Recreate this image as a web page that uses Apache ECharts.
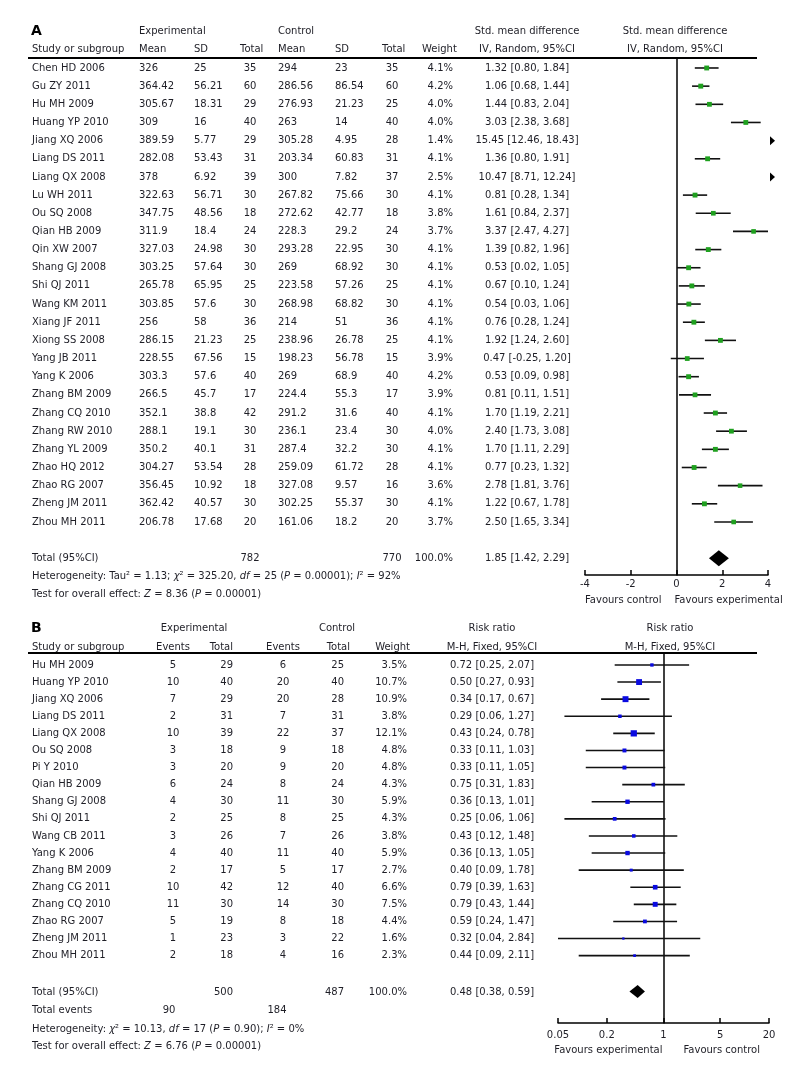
<!DOCTYPE html>
<html><head><meta charset="utf-8">
<script src="https://cdn.jsdelivr.net/npm/echarts@6/dist/echarts.min.js"></script>
<style>html,body{margin:0;padding:0;background:#fff}#c{width:800px;height:1069px}</style>
</head><body><div id="c"></div>
<script>
// ---------- Panel A data ----------
const studiesA = ['Chen HD 2006','Gu ZY 2011','Hu MH 2009','Huang YP 2010','Jiang XQ 2006','Liang DS 2011','Liang QX 2008','Lu WH 2011','Ou SQ 2008','Qian HB 2009','Qin XW 2007','Shang GJ 2008','Shi QJ 2011','Wang KM 2011','Xiang JF 2011','Xiong SS 2008','Yang JB 2011','Yang K 2006','Zhang BM 2009','Zhang CQ 2010','Zhang RW 2010','Zhang YL 2009','Zhao HQ 2012','Zhao RG 2007','Zheng JM 2011','Zhou MH 2011'];
const expMeanA = ['326','364.42','305.67','309','389.59','282.08','378','322.63','347.75','311.9','327.03','303.25','265.78','303.85','256','286.15','228.55','303.3','266.5','352.1','288.1','350.2','304.27','356.45','362.42','206.78'];
const expSdA = ['25','56.21','18.31','16','5.77','53.43','6.92','56.71','48.56','18.4','24.98','57.64','65.95','57.6','58','21.23','67.56','57.6','45.7','38.8','19.1','40.1','53.54','10.92','40.57','17.68'];
const expNA = [35,60,29,40,29,31,39,30,18,24,30,30,25,30,36,25,15,40,17,42,30,31,28,18,30,20];
const ctlMeanA = ['294','286.56','276.93','263','305.28','203.34','300','267.82','272.62','228.3','293.28','269','223.58','268.98','214','238.96','198.23','269','224.4','291.2','236.1','287.4','259.09','327.08','302.25','161.06'];
const ctlSdA = ['23','86.54','21.23','14','4.95','60.83','7.82','75.66','42.77','29.2','22.95','68.92','57.26','68.82','51','26.78','56.78','68.9','55.3','31.6','23.4','32.2','61.72','9.57','55.37','18.2'];
const ctlNA = [35,60,25,40,28,31,37,30,18,24,30,30,25,30,36,25,15,40,17,40,30,30,28,16,30,20];
const weightA = ['4.1%','4.2%','4.0%','4.0%','1.4%','4.1%','2.5%','4.1%','3.8%','3.7%','4.1%','4.1%','4.1%','4.1%','4.1%','4.1%','3.9%','4.2%','3.9%','4.1%','4.0%','4.1%','4.1%','3.6%','4.1%','3.7%'];
const smdA = [1.32,1.06,1.44,3.03,15.45,1.36,10.47,0.81,1.61,3.37,1.39,0.53,0.67,0.54,0.76,1.92,0.47,0.53,0.81,1.70,2.40,1.70,0.77,2.78,1.22,2.50];
const loA  = [0.80,0.68,0.83,2.38,12.46,0.80,8.71,0.28,0.84,2.47,0.82,0.02,0.10,0.03,0.28,1.24,-0.25,0.09,0.11,1.19,1.73,1.11,0.23,1.81,0.67,1.65];
const hiA  = [1.84,1.44,2.04,3.68,18.43,1.91,12.24,1.34,2.37,4.27,1.96,1.05,1.24,1.06,1.24,2.60,1.20,0.98,1.51,2.21,3.08,2.29,1.32,3.76,1.78,3.34];
const totalA = {expN: 782, ctlN: 770, weight: '100.0%', est: 1.85, lo: 1.42, hi: 2.29};
const ticksA = [-4, -2, 0, 2, 4];
const tickLabelsA = ['-4', '-2', '0', '2', '4'];

// ---------- Panel B data ----------
const studiesB = ['Hu MH 2009','Huang YP 2010','Jiang XQ 2006','Liang DS 2011','Liang QX 2008','Ou SQ 2008','Pi Y 2010','Qian HB 2009','Shang GJ 2008','Shi QJ 2011','Wang CB 2011','Yang K 2006','Zhang BM 2009','Zhang CG 2011','Zhang CQ 2010','Zhao RG 2007','Zheng JM 2011','Zhou MH 2011'];
const expEvB = [5,10,7,2,10,3,3,6,4,2,3,4,2,10,11,5,1,2];
const expTotB = [29,40,29,31,39,18,20,24,30,25,26,40,17,42,30,19,23,18];
const ctlEvB = [6,20,20,7,22,9,9,8,11,8,7,11,5,12,14,8,3,4];
const ctlTotB = [25,40,28,31,37,18,20,24,30,25,26,40,17,40,30,18,22,16];
const weightB = ['3.5%','10.7%','10.9%','3.8%','12.1%','4.8%','4.8%','4.3%','5.9%','4.3%','3.8%','5.9%','2.7%','6.6%','7.5%','4.4%','1.6%','2.3%'];
const rrB   = [0.72,0.50,0.34,0.29,0.43,0.33,0.33,0.75,0.36,0.25,0.43,0.36,0.40,0.79,0.79,0.59,0.32,0.44];
const rrLoB = [0.25,0.27,0.17,0.06,0.24,0.11,0.11,0.31,0.13,0.06,0.12,0.13,0.09,0.39,0.43,0.24,0.04,0.09];
const rrHiB = [2.07,0.93,0.67,1.27,0.78,1.03,1.05,1.83,1.01,1.06,1.48,1.05,1.78,1.63,1.44,1.47,2.84,2.11];
const totalB = {expTot: 500, ctlTot: 487, expEv: 90, ctlEv: 184, weight: '100.0%', est: 0.48, lo: 0.38, hi: 0.59};
const ticksB = [0.05, 0.2, 1, 5, 20];
const tickLabelsB = ['0.05', '0.2', '1', '5', '20'];

// ---------- styling ----------
const FF = '"DejaVu Sans", Verdana, sans-serif';
const FS = 10;
const TXT = '#1e1e26';
const GREEN = '#1fa01f';
const BLUE = '#0a0ae0';
const f2 = v => v.toFixed(2);
const ciText = (e, l, h) => f2(e) + ' [' + f2(l) + ', ' + f2(h) + ']';
const RICH = {
  i: {fontStyle: 'italic', fontSize: FS, fontFamily: FF, fill: TXT},
  n: {fontSize: FS, fontFamily: FF, fill: TXT}
};

function T(x, y, text, align, extra) {
  return {type: 'text', silent: true, style: Object.assign({x: x, y: y, text: text, fill: TXT, fontSize: FS, fontFamily: FF, align: align || 'left', verticalAlign: 'middle'}, extra || {})};
}
function R(x, y, text) {
  return {type: 'text', silent: true, style: {x: x, y: y, text: text, rich: RICH, fill: TXT, fontSize: FS, fontFamily: FF, align: 'left', verticalAlign: 'middle'}};
}
function hline(x1, x2, y, w) {
  return {type: 'line', silent: true, shape: {x1: x1, y1: y, x2: x2, y2: y}, style: {stroke: '#000', lineWidth: w || 1.5}};
}

// column positions (layout)
const CA = {name: 32, eMean: 139, eSd: 194, eN: 250, cMean: 278, cSd: 335, cN: 392, w: 453, ci: 527, plot: 675};
const CB = {name: 32, eEv: 173, eTot: 233, cEv: 283, cTot: 344, w: 407, ci: 492, plot: 670};

function rowsA(params, api) {
  const i = api.value(1);
  const y = api.coord([0, i])[1];
  return {type: 'group', children: [
    T(CA.name, y, studiesA[i]),
    T(CA.eMean, y, expMeanA[i]),
    T(CA.eSd, y, expSdA[i]),
    T(CA.eN, y, String(expNA[i]), 'center'),
    T(CA.cMean, y, ctlMeanA[i]),
    T(CA.cSd, y, ctlSdA[i]),
    T(CA.cN, y, String(ctlNA[i]), 'center'),
    T(CA.w, y, weightA[i], 'right'),
    T(CA.ci, y, ciText(smdA[i], loA[i], hiA[i]), 'center')
  ]};
}
function rowsB(params, api) {
  const i = api.value(1);
  const y = api.coord([0, i])[1];
  return {type: 'group', children: [
    T(CB.name, y, studiesB[i]),
    T(CB.eEv, y, String(expEvB[i]), 'center'),
    T(CB.eTot, y, String(expTotB[i]), 'right'),
    T(CB.cEv, y, String(ctlEvB[i]), 'center'),
    T(CB.cTot, y, String(ctlTotB[i]), 'right'),
    T(CB.w, y, weightB[i], 'right'),
    T(CB.ci, y, ciText(rrB[i], rrLoB[i], rrHiB[i]), 'center')
  ]};
}

function frameA(params, api) {
  const Y = r => api.coord([0, r])[1];
  const cs = params.coordSys;
  const yTop = cs.y, yAx = cs.y + cs.height;
  const x0 = api.coord([0, 0])[0];
  return {type: 'group', children: [
    T(31, Y(-2.0), 'A', 'left', {fontSize: 14, fontWeight: 'bold', fill: '#000'}),
    T(CA.eMean, Y(-2.0), 'Experimental'),
    T(CA.cMean, Y(-2.0), 'Control'),
    T(CA.ci, Y(-2.0), 'Std. mean difference', 'center'),
    T(CA.plot, Y(-2.0), 'Std. mean difference', 'center'),
    T(CA.name, Y(-1.05), 'Study or subgroup'),
    T(CA.eMean, Y(-1.05), 'Mean'),
    T(CA.eSd, Y(-1.05), 'SD'),
    T(240, Y(-1.05), 'Total'),
    T(CA.cMean, Y(-1.05), 'Mean'),
    T(CA.cSd, Y(-1.05), 'SD'),
    T(382, Y(-1.05), 'Total'),
    T(422, Y(-1.05), 'Weight'),
    T(CA.ci, Y(-1.05), 'IV, Random, 95%CI', 'center'),
    T(CA.plot, Y(-1.05), 'IV, Random, 95%CI', 'center'),
    hline(28, 757, yTop, 2),
    T(CA.name, Y(27), 'Total (95%CI)'),
    T(CA.eN, Y(27), String(totalA.expN), 'center'),
    T(CA.cN, Y(27), String(totalA.ctlN), 'center'),
    T(CA.w, Y(27), totalA.weight, 'right'),
    T(CA.ci, Y(27), ciText(totalA.est, totalA.lo, totalA.hi), 'center'),
    R(CA.name, Y(28), '{n|Heterogeneity: Tau}{n|\u00b2 = 1.13; }{i|\u03c7}{n|\u00b2 = 325.20, }{i|df}{n| = 25 (}{i|P}{n| = 0.00001); }{i|I}{n|\u00b2 = 92%}'),
    R(CA.name, Y(29), '{n|Test for overall effect: }{i|Z}{n| = 8.36 (}{i|P}{n| = 0.00001)}'),
    T(x0 - 15, yAx + 25, 'Favours control', 'right'),
    T(x0 - 2, yAx + 25, 'Favours experimental', 'left')
  ]};
}
function frameB(params, api) {
  const Y = r => api.coord([0, r])[1];
  const cs = params.coordSys;
  const yTop = cs.y, yAx = cs.y + cs.height;
  const x1 = api.coord([0, 0])[0];
  return {type: 'group', children: [
    T(31, Y(-2.16), 'B', 'left', {fontSize: 14, fontWeight: 'bold', fill: '#000'}),
    T(194, Y(-2.16), 'Experimental', 'center'),
    T(337, Y(-2.16), 'Control', 'center'),
    T(CB.ci, Y(-2.16), 'Risk ratio', 'center'),
    T(CB.plot, Y(-2.16), 'Risk ratio', 'center'),
    T(CB.name, Y(-1.05), 'Study or subgroup'),
    T(CB.eEv, Y(-1.05), 'Events', 'center'),
    T(CB.eTot, Y(-1.05), 'Total', 'right'),
    T(CB.cEv, Y(-1.05), 'Events', 'center'),
    T(350, Y(-1.05), 'Total', 'right'),
    T(410, Y(-1.05), 'Weight', 'right'),
    T(CB.ci, Y(-1.05), 'M-H, Fixed, 95%CI', 'center'),
    T(CB.plot, Y(-1.05), 'M-H, Fixed, 95%CI', 'center'),
    hline(28, 757, yTop, 2),
    T(CB.name, Y(19.15), 'Total (95%CI)'),
    T(CB.eTot, Y(19.15), String(totalB.expTot), 'right'),
    T(CB.cTot, Y(19.15), String(totalB.ctlTot), 'right'),
    T(CB.w, Y(19.15), totalB.weight, 'right'),
    T(CB.ci, Y(19.15), ciText(totalB.est, totalB.lo, totalB.hi), 'center'),
    T(CB.name, Y(20.22), 'Total events'),
    T(169, Y(20.22), String(totalB.expEv), 'center'),
    T(277, Y(20.22), String(totalB.ctlEv), 'center'),
    R(CB.name, Y(21.32), '{n|Heterogeneity: }{i|\u03c7}{n|\u00b2 = 10.13, }{i|df}{n| = 17 (}{i|P}{n| = 0.90); }{i|I}{n|\u00b2 = 0%}'),
    R(CB.name, Y(22.32), '{n|Test for overall effect: }{i|Z}{n| = 6.76 (}{i|P}{n| = 0.00001)}'),
    T(x1 - 1, yAx + 27, 'Favours experimental', 'right'),
    T(x1 + 20, yAx + 27, 'Favours control', 'left')
  ]};
}

function makeStudy(color, sizeK) {
  return function (params, api) {
    const cs = params.coordSys;
    const est = api.value(0), lo = api.value(1), hi = api.value(2), row = api.value(3), w = api.value(4);
    const y = api.coord([0, row])[1];
    const xmin = cs.x, xmax = cs.x + cs.width;
    const xe = api.coord([est, row])[0];
    const xl = api.coord([lo, row])[0];
    const xh = api.coord([hi, row])[0];
    const ch = [];
    if (xe > xmax) {
      ch.push({type: 'polygon', silent: true, shape: {points: [[xmax + 2, y - 4.5], [xmax + 7, y], [xmax + 2, y + 4.5]]}, style: {fill: '#000'}});
    } else {
      ch.push({type: 'line', silent: true, shape: {x1: Math.max(xl, xmin), y1: y, x2: Math.min(xh, xmax), y2: y}, style: {stroke: '#111', lineWidth: 1.6}});
      const s = sizeK * Math.sqrt(w);
      ch.push({type: 'rect', silent: true, shape: {x: xe - s / 2, y: y - s / 2, width: s, height: s}, style: {fill: color}});
    }
    return {type: 'group', children: ch};
  };
}
function makeDiamond(h) {
  return function (params, api) {
    const est = api.value(0), lo = api.value(1), hi = api.value(2), row = api.value(3);
    const y = api.coord([0, row])[1];
    const xe = api.coord([est, row])[0], xl = api.coord([lo, row])[0], xh = api.coord([hi, row])[0];
    return {type: 'polygon', silent: true, shape: {points: [[xl, y], [xe, y - h / 2], [xh, y], [xe, y + h / 2]]}, style: {fill: '#000'}};
  };
}

const L = Math.log10;
const axisTxt = {color: TXT, fontSize: FS, fontFamily: FF};

const option = {
  backgroundColor: '#fff',
  animation: false,
  grid: [
    {left: 585, width: 183, top: 58, height: 517},
    {left: 558, width: 211, top: 653, height: 370}
  ],
  xAxis: [
    {gridIndex: 0, type: 'value', min: -4, max: 4, interval: 2,
     axisLine: {onZero: false, lineStyle: {color: '#000', width: 1.5}},
     axisTick: {inside: true, length: 5, customValues: ticksA, lineStyle: {color: '#000', width: 1.5}},
     axisLabel: Object.assign({margin: 4, customValues: ticksA, formatter: v => tickLabelsA[ticksA.indexOf(v)]}, axisTxt),
     splitLine: {show: false}},
    {gridIndex: 1, type: 'value', min: L(ticksB[0]), max: L(ticksB[ticksB.length - 1]),
     axisLine: {onZero: false, lineStyle: {color: '#000', width: 1.5}},
     axisTick: {inside: true, length: 5, customValues: ticksB.map(L), lineStyle: {color: '#000', width: 1.5}},
     axisLabel: Object.assign({margin: 7, customValues: ticksB.map(L), formatter: v => {
       let k = 0, d = Infinity;
       ticksB.forEach((t, j) => { const e = Math.abs(L(t) - v); if (e < d) { d = e; k = j; } });
       return tickLabelsB[k];
     }}, axisTxt),
     splitLine: {show: false}}
  ],
  yAxis: [
    {gridIndex: 0, type: 'value', min: -0.55, max: 27.92, inverse: true,
     axisLine: {show: true, onZero: true, lineStyle: {color: '#000', width: 1.5}},
     axisTick: {show: false}, axisLabel: {show: false}, splitLine: {show: false}},
    {gridIndex: 1, type: 'value', min: -0.7, max: 20.94, inverse: true,
     axisLine: {show: true, onZero: true, lineStyle: {color: '#000', width: 1.5}},
     axisTick: {show: false}, axisLabel: {show: false}, splitLine: {show: false}}
  ],
  series: [
    {type: 'custom', xAxisIndex: 0, yAxisIndex: 0, renderItem: frameA, data: [[0, 0]], silent: true},
    {type: 'custom', xAxisIndex: 0, yAxisIndex: 0, renderItem: rowsA, data: studiesA.map((s, i) => [0, i]), silent: true},
    {type: 'custom', xAxisIndex: 0, yAxisIndex: 0, renderItem: makeStudy(GREEN, 2.4), z: 3,
     data: smdA.map((v, i) => [v, loA[i], hiA[i], i, parseFloat(weightA[i])]), encode: {x: 0, y: 3}, silent: true},
    {type: 'custom', xAxisIndex: 0, yAxisIndex: 0, renderItem: makeDiamond(16), z: 3,
     data: [[totalA.est, totalA.lo, totalA.hi, 27]], encode: {x: 0, y: 3}, silent: true},

    {type: 'custom', xAxisIndex: 1, yAxisIndex: 1, renderItem: frameB, data: [[0, 0]], silent: true},
    {type: 'custom', xAxisIndex: 1, yAxisIndex: 1, renderItem: rowsB, data: studiesB.map((s, i) => [0, i]), silent: true},
    {type: 'custom', xAxisIndex: 1, yAxisIndex: 1, renderItem: makeStudy(BLUE, 1.8), z: 3,
     data: rrB.map((v, i) => [L(v), L(rrLoB[i]), L(rrHiB[i]), i, parseFloat(weightB[i])]), encode: {x: 0, y: 3}, silent: true},
    {type: 'custom', xAxisIndex: 1, yAxisIndex: 1, renderItem: makeDiamond(13), z: 3,
     data: [[L(totalB.est), L(totalB.lo), L(totalB.hi), 19.1]], encode: {x: 0, y: 3}, silent: true}
  ]
};

const chart = echarts.init(document.getElementById('c'));
chart.setOption(option);
</script></body></html>
